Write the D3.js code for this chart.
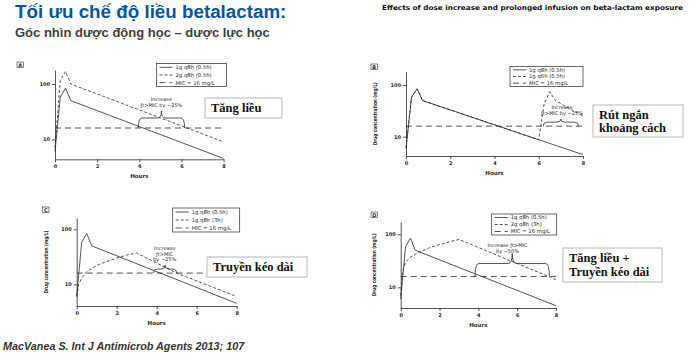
<!DOCTYPE html>
<html>
<head>
<meta charset="utf-8">
<script src="https://cdn.jsdelivr.net/npm/d3@7"></script>
<style>
body { margin: 0; background: #fff; }
svg { display: block; }
</style>
</head>
<body>
<script>
var hourTicks = [0, 2, 4, 6, 8];
var concTicks = [10, 100];
var mic = 16;

// 1g q8h (0.5h) - same reference curve in every panel
var shortTime = [0, 0.25, 0.5, 0.75, 8];
var conc1g = [6, 58, 84, 50, 4.5];
// 2g q8h (0.5h)
var conc2g = [7, 115, 168, 100, 9];
// 1g q6h (0.5h), second dose at 6h
var q6Time = [0, 0.25, 0.5, 0.75, 6, 6.25, 6.5, 6.75, 8];
var conc1gQ6 = [6, 58, 84, 50, 8.7, 45, 74, 50, 25];
// 1g q8h (3h)
var longTime1g = [0, 0.1, 0.25, 0.5, 1, 1.5, 2, 2.5, 3, 3.5, 5, 8];
var conc1gLong = [6, 10, 13, 17, 22, 26, 30, 34, 37, 30, 16, 6];
// 2g q8h (3h)
var longTime2g = [0, 0.1, 0.25, 0.5, 1, 1.5, 2, 2.5, 3, 8];
var conc2gLong = [7, 20, 30, 37, 47, 56, 64, 72, 80, 14];

var legendA = ["1g q8h (0.5h)", "2g q8h (0.5h)", "MIC = 16 mg/L"];
var legendB = ["1g q8h (0.5h)", "1g q6h (0.5h)", "MIC = 16 mg/L"];
var legendC = ["1g q8h (0.5h)", "1g q8h (3h)", "MIC = 16 mg/L"];
var legendD = ["1g q8h (0.5h)", "2g q8h (3h)", "MIC = 16 mg/L"];

// start / end of the fT>MIC brace, hours
var braceA = [3.95, 6.15];
var braceB = [6.2, 7.8];
var braceC = [3.83, 5.0];
var braceD = [3.83, 7.66];

var noteA = ["Increase", "ƒt>MIC by ~25%"];
var noteB = ["Increase", "ƒt>MIC by ~25%"];
var noteC = ["Increase", "ƒt>MIC", "by ~25%"];
var noteD = ["Increase ƒt>MIC", "by ~50%"];

var boxA = ["Tăng liều"];
var boxB = ["Rút ngắn", "khoảng cách"];
var boxC = ["Truyền kéo dài"];
var boxD = ["Tăng liều +", "Truyền kéo dài"];

var w = 700, h = 361;
var ink = "#2a2a2a";
var figFont = "DejaVu Sans, Verdana, sans-serif";

var svg = d3.select("body").append("svg")
    .attr("width", w)
    .attr("height", h);

// headings
svg.append("text")
    .attr("x", 15).attr("y", 18)
    .style("font-family", "Liberation Sans, Arial, sans-serif")
    .style("font-weight", "bold")
    .style("font-size", "18.8px")
    .style("fill", "#0a52a3")
    .text("Tối ưu chế độ liều betalactam:");

svg.append("text")
    .attr("x", 15).attr("y", 37)
    .style("font-family", "Liberation Sans, Arial, sans-serif")
    .style("font-weight", "bold")
    .style("font-size", "13px")
    .style("fill", "#404040")
    .text("Góc nhìn dược động học – dược lực học");

svg.append("text")
    .attr("x", 382).attr("y", 10)
    .attr("textLength", 301)
    .attr("lengthAdjust", "spacingAndGlyphs")
    .style("font-family", figFont)
    .style("font-weight", "bold")
    .style("font-size", "6.8px")
    .style("fill", "#111")
    .text("Effects of dose increase and prolonged infusion on beta-lactam exposure");

svg.append("text")
    .attr("x", 3).attr("y", 350)
    .style("font-family", "Liberation Sans, Arial, sans-serif")
    .style("font-weight", "bold")
    .style("font-style", "italic")
    .style("font-size", "10.8px")
    .style("fill", "#333")
    .text("MacVanea S. Int J Antimicrob Agents 2013; 107");

var panels = [
    {
        name: "A", tag: [17, 62], x0: 55, x8: 223.6, y10: 139.3, y100: 84, yTop: 70, yBot: 159.3,
        yLabel: false,
        series: [
            {t: shortTime, c: conc1g, dash: null},
            {t: shortTime, c: conc2g, dash: "3,2"}
        ],
        legend: {x: 156.5, y: 63.5, w: 70, h: 23, labels: legendA},
        brace: braceA, flat: 10, tip: 17, note: noteA, noteY: 101, noteX: 5.05,
        box: {x: 205, y: 98, w: 77, h: 20, lines: boxA, lh: 13}
    },
    {
        name: "B", tag: [371, 64], x0: 406, x8: 583, y10: 136.7, y100: 85, yTop: 71.5, yBot: 156,
        yLabel: true, yLabelX: 375,
        series: [
            {t: shortTime, c: conc1g, dash: null},
            {t: q6Time, c: conc1gQ6, dash: "3,2"}
        ],
        legend: {x: 510, y: 66.5, w: 73, h: 20, labels: legendB},
        brace: braceB, flat: 4, tip: 7, note: noteB, noteY: 109, noteX: 7.05,
        box: {x: 593, y: 105, w: 90, h: 32, lines: boxB, lh: 13}
    },
    {
        name: "C", tag: [42.5, 207], x0: 76.7, x8: 236.7, y10: 284.3, y100: 229.3, yTop: 218, yBot: 306,
        yLabel: true, yLabelX: 46,
        series: [
            {t: shortTime, c: conc1g, dash: null},
            {t: longTime1g, c: conc1gLong, dash: "3,2"}
        ],
        legend: {x: 172.7, y: 208, w: 67, h: 24, labels: legendC},
        brace: braceC, flat: 4, tip: 8, note: noteC, noteY: 250, noteX: 4.4,
        box: {x: 207, y: 257, w: 100, h: 20, lines: boxC, lh: 13}
    },
    {
        name: "D", tag: [371, 212], x0: 400.7, x8: 556, y10: 287.3, y100: 234.3, yTop: 221.7, yBot: 308,
        yLabel: true, yLabelX: 374,
        series: [
            {t: shortTime, c: conc1g, dash: null},
            {t: longTime2g, c: conc2gLong, dash: "3,2"}
        ],
        legend: {x: 491.7, y: 214, w: 65, h: 21, labels: legendD},
        brace: braceD, flat: 13, tip: 23, note: noteD, noteY: 247, noteX: 5.5,
        box: {x: 563, y: 248, w: 99, h: 34, lines: boxD, lh: 14}
    }
];

function bracePath(x1, x2, yb, yf, yt) {
    var m = (x1 + x2) / 2;
    var r = Math.min(4, (x2 - x1) / 6);
    return "M" + x1 + "," + yb +
        " Q" + x1 + "," + yf + " " + (x1 + r) + "," + yf +
        " L" + (m - r) + "," + yf +
        " Q" + m + "," + yf + " " + m + "," + yt +
        " Q" + m + "," + yf + " " + (m + r) + "," + yf +
        " L" + (x2 - r) + "," + yf +
        " Q" + x2 + "," + yf + " " + x2 + "," + yb;
}

function drawPanel(p) {
    var g = svg.append("g");

    var x = d3.scaleLinear().domain([0, 8]).range([p.x0, p.x8]);
    var y = d3.scaleLog().domain([10, 100]).range([p.y10, p.y100]);
    y.domain([y.invert(p.yBot), y.invert(p.yTop)]).range([p.yBot, p.yTop]);

    // panel letter
    g.append("rect")
        .attr("x", p.tag[0]).attr("y", p.tag[1])
        .attr("width", 6.5).attr("height", 5.5)
        .style("fill", "none").style("stroke", ink).style("stroke-width", 0.6);
    g.append("text")
        .attr("x", p.tag[0] + 3.25).attr("y", p.tag[1] + 4.6)
        .attr("text-anchor", "middle")
        .style("font-family", figFont).style("font-size", "5px").style("font-weight", "bold")
        .style("fill", ink)
        .text(p.name);

    var xAxis = g.append("g")
        .attr("transform", "translate(0," + p.yBot + ")")
        .call(d3.axisBottom(x).tickValues(hourTicks).tickSize(3).tickSizeOuter(0).tickPadding(2)
            .tickFormat(d3.format("d")));
    var yAxis = g.append("g")
        .attr("transform", "translate(" + p.x0 + ",0)")
        .call(d3.axisLeft(y).tickValues(concTicks).tickSize(3).tickSizeOuter(0).tickPadding(2)
            .tickFormat(d3.format("d")));

    [xAxis, yAxis].forEach(function(a) {
        a.selectAll("path, line").style("stroke", ink).style("stroke-width", 0.8);
        a.selectAll("text")
            .style("font-family", figFont)
            .style("font-size", "5px")
            .style("font-weight", "bold")
            .style("fill", ink);
    });

    g.append("text")
        .attr("x", (p.x0 + p.x8) / 2).attr("y", p.yBot + 19)
        .attr("text-anchor", "middle")
        .style("font-family", figFont).style("font-size", "5.5px").style("font-weight", "bold")
        .style("fill", ink)
        .text("Hours");

    if (p.yLabel) {
        var cy = (p.yBot + p.yTop) / 2;
        g.append("text")
            .attr("transform", "translate(" + p.yLabelX + "," + cy + ") rotate(-90)")
            .attr("text-anchor", "middle")
            .attr("dy", "0.35em")
            .attr("textLength", 63)
            .attr("lengthAdjust", "spacingAndGlyphs")
            .style("font-family", figFont).style("font-size", "5.5px").style("font-weight", "bold")
            .style("fill", ink)
            .text("Drug concentration (mg/L)");
    }

    var line = d3.line()
        .x(function(d) { return x(d[0]); })
        .y(function(d) { return y(d[1]); });

    // MIC
    g.append("path")
        .datum([[0, mic], [8, mic]])
        .attr("d", line)
        .style("fill", "none").style("stroke", ink).style("stroke-width", 0.8)
        .style("stroke-dasharray", "6,4");

    p.series.forEach(function(s) {
        g.append("path")
            .datum(d3.zip(s.t, s.c))
            .attr("d", line)
            .style("fill", "none").style("stroke", ink).style("stroke-width", 0.8)
            .style("stroke-dasharray", s.dash);
    });

    // fT>MIC brace
    var yb = y(mic);
    g.append("path")
        .attr("d", bracePath(x(p.brace[0]), x(p.brace[1]), yb, yb - p.flat, yb - p.tip))
        .style("fill", "none").style("stroke", ink).style("stroke-width", 0.8);

    g.selectAll(".note")
        .data(p.note)
        .enter()
        .append("text")
        .attr("x", x(p.noteX))
        .attr("y", function(d, i) { return p.noteY + i * 5.5; })
        .attr("text-anchor", "middle")
        .style("font-family", figFont).style("font-size", "5px")
        .style("fill", ink)
        .text(function(d) { return d; });

    // legend
    var L = p.legend;
    g.append("rect")
        .attr("x", L.x).attr("y", L.y).attr("width", L.w).attr("height", L.h)
        .style("fill", "#fff").style("stroke", ink).style("stroke-width", 0.7);
    var styles = [null, "3,2", "6,4"];
    var step = L.h / 3;
    L.labels.forEach(function(lab, i) {
        var ly = L.y + step * (i + 0.5);
        g.append("line")
            .attr("x1", L.x + 3).attr("x2", L.x + 16)
            .attr("y1", ly).attr("y2", ly)
            .style("stroke", ink).style("stroke-width", 0.8)
            .style("stroke-dasharray", styles[i]);
        g.append("text")
            .attr("x", L.x + 19).attr("y", ly)
            .attr("dy", "0.35em")
            .style("font-family", figFont).style("font-size", "5.3px")
            .style("fill", ink)
            .text(lab);
    });

    // Vietnamese call-out box
    var B = p.box;
    g.append("rect")
        .attr("x", B.x).attr("y", B.y).attr("width", B.w).attr("height", B.h)
        .style("fill", "#fff").style("stroke", "#b8b8b8").style("stroke-width", 1);
    var firstY = B.y + B.h / 2 - (B.lines.length - 1) * B.lh / 2;
    B.lines.forEach(function(txt, i) {
        g.append("text")
            .attr("x", B.x + 6)
            .attr("y", firstY + i * B.lh)
            .attr("dy", "0.35em")
            .style("font-family", "Liberation Serif, Times New Roman, serif")
            .style("font-weight", "bold")
            .style("font-size", "12.5px")
            .style("fill", "#111")
            .text(txt);
    });
}

panels.forEach(drawPanel);
</script>
</body>
</html>
